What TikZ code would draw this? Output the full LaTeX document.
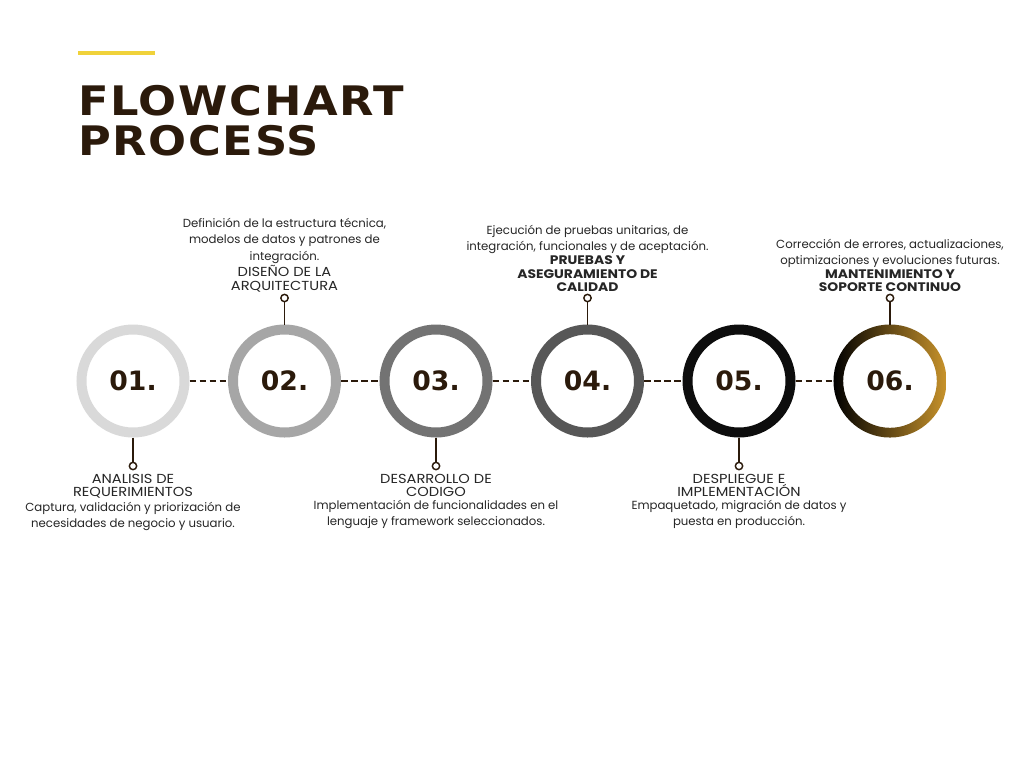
\documentclass[tikz,border=0pt]{standalone}
\usepackage{fontspec}
\setmainfont{Poppins}
\newfontfamily\capsfont[FakeStretch=1.12]{Poppins}
\newfontfamily\titlefont[FakeStretch=1.1,LetterSpace=4]{DejaVu Sans}
\newfontfamily\numfont{DejaVu Sans}
\usetikzlibrary{positioning}

\definecolor{brownD}{HTML}{2B1A0B}
\definecolor{yellowL}{HTML}{F0D23A}
\definecolor{ringA}{HTML}{D9D9D9}
\definecolor{ringB}{HTML}{A6A6A6}
\definecolor{ringC}{HTML}{737373}
\definecolor{ringD}{HTML}{575757}
\definecolor{ringE}{HTML}{0D0D0D}
\definecolor{goldC}{HTML}{C8932B}
\definecolor{textG}{HTML}{262626}

\tikzset{
  ring/.style={circle, draw=#1, line width=7.5pt, minimum size=77.25pt,
    inner sep=0pt, outer sep=3.75pt, text=brownD,
    font=\numfont\bfseries\fontsize{20}{24}\selectfont},
  link/.style={draw=brownD, line width=1.4pt, dash pattern=on 5pt off 2.5pt},
  stem/.style={draw=brownD, line width=1.4pt},
  pin/.style={circle, draw=brownD, line width=1.1pt, fill=white,
    minimum size=5.5pt, inner sep=0pt},
  steptitle/.style={align=center, inner sep=0.5pt, text=textG,
    font=\capsfont\fontsize{9.8}{10.2}\selectfont},
  boldtitle/.style={steptitle, font=\capsfont\bfseries\fontsize{9.3}{10.2}\selectfont},
  stepdesc/.style={align=center, inner sep=0.5pt, text=textG,
    font=\fontsize{8.8}{12.4}\selectfont}
}

\begin{document}
\begin{tikzpicture}[x=0.75pt,y=-0.75pt]
    \fill[white] (0,0) rectangle (1024,768);
    \useasboundingbox (0,0) rectangle (1024,768);

    % Title
    \draw[yellowL, line width=2.4pt] (78,53) -- (155,53);
    \node[anchor=base west, inner sep=0pt, text=brownD,
      font=\titlefont\bfseries\fontsize{30.5}{36}\selectfont] (title1) at (78,115) {FLOWCHART};
    \node[anchor=base west, inner sep=0pt, text=brownD,
      font=\titlefont\bfseries\fontsize{30.5}{36}\selectfont] (title2) at (78,155) {PROCESS};

    % Connectors
    \node[ring=ringA] (c1) at (133,381) {01.};
    \node[ring=ringB] (c2) at (284.5,381) {02.};
    \node[ring=ringC] (c3) at (436,381) {03.};
    \node[ring=ringD] (c4) at (587.5,381) {04.};
    \node[ring=ringE] (c5) at (739,381) {05.};
    \node[ring=white, draw=none] (c6) at (890,381) {};
    \draw[link] (c1) -- (c2);
    \draw[link] (c2) -- (c3);
    \draw[link] (c3) -- (c4);
    \draw[link] (c4) -- (c5);
    \draw[link] (c5) -- (c6);

    % Last ring
    \shade[left color=black, middle color=black!65!goldC, right color=goldC, even odd rule]
      (c6.center) circle (42.4pt) (c6.center) circle (35.1pt);
    \node[text=brownD, font=\numfont\bfseries\fontsize{20}{24}\selectfont] at (c6.center) {06.};

    % Pins
    \node[pin] (p1) at (133,466) {};
    \node[pin] (p2) at (284.5,298) {};
    \node[pin] (p3) at (436,466) {};
    \node[pin] (p4) at (587.5,298) {};
    \node[pin] (p5) at (739,466) {};
    \node[pin] (p6) at (890,298) {};
    \draw[stem] (c1.south) -- (p1.north);
    \draw[stem] (c2.north) -- (p2.south);
    \draw[stem] (c3.south) -- (p3.north);
    \draw[stem] (c4.north) -- (p4.south);
    \draw[stem] (c5.south) -- (p5.north);
    \draw[stem] (c6.north) -- (p6.south);

    % Labels
    \node[steptitle, below=2pt of p1] (t1) {ANALISIS DE\\REQUERIMIENTOS};
    \node[stepdesc, below=1pt of t1] (d1) {Captura, validación y priorización de\\necesidades de negocio y usuario.};
    \node[steptitle, above=0.5pt of p2] (t2) {DISEÑO DE LA\\ARQUITECTURA};
    \node[stepdesc, above=0pt of t2] (d2) {Definición de la estructura técnica,\\modelos de datos y patrones de\\integración.};
    \node[steptitle, below=2pt of p3] (t3) {DESARROLLO DE\\CODIGO};
    \node[stepdesc, below=1pt of t3] (d3) {Implementación de funcionalidades en el\\lenguaje y framework seleccionados.};
    \node[boldtitle, above=0.5pt of p4] (t4) {PRUEBAS Y\\ASEGURAMIENTO DE\\CALIDAD};
    \node[stepdesc, above=0pt of t4] (d4) {Ejecución de pruebas unitarias, de\\integración, funcionales y de aceptación.};
    \node[steptitle, below=2pt of p5] (t5) {DESPLIEGUE E\\IMPLEMENTACIÓN};
    \node[stepdesc, below=1pt of t5] (d5) {Empaquetado, migración de datos y\\puesta en producción.};
    \node[boldtitle, above=0.5pt of p6] (t6) {MANTENIMIENTO Y\\SOPORTE CONTINUO};
    \node[stepdesc, above=0pt of t6] (d6) {Corrección de errores, actualizaciones,\\optimizaciones y evoluciones futuras.};
\end{tikzpicture}
\end{document}
